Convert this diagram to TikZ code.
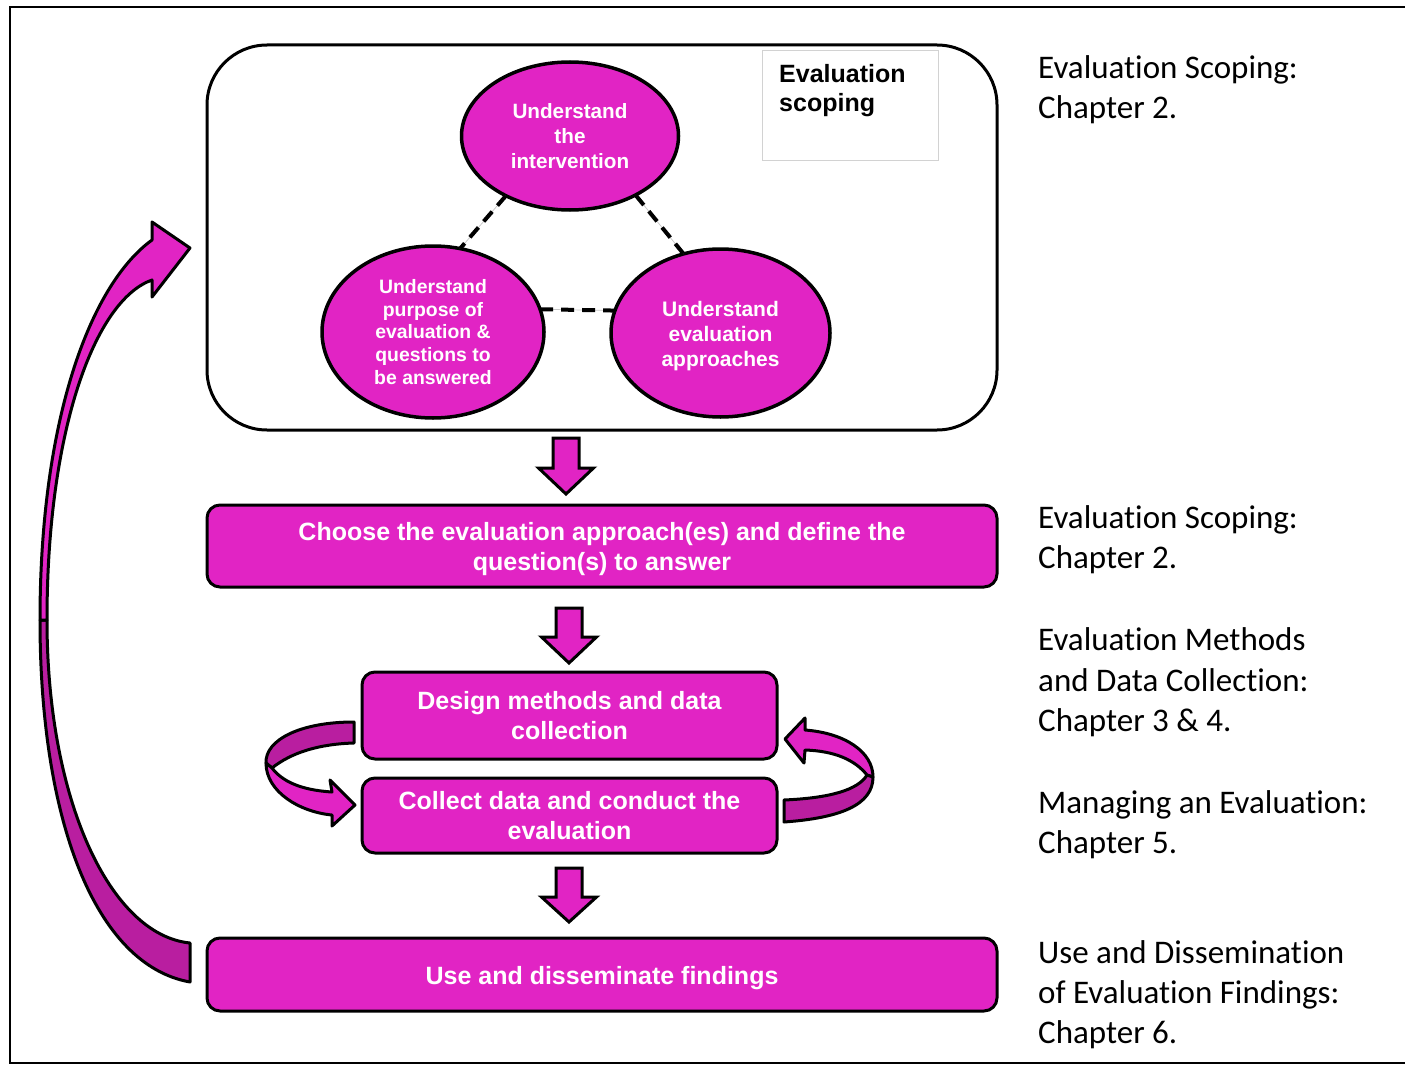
\documentclass[tikz,border=0pt]{standalone}
\usepackage{fontspec}
\usetikzlibrary{shapes.geometric,calc}
\newfontfamily\arialf{Liberation Sans}
\newfontfamily\calf{Carlito}[Ligatures=NoCommon]
\definecolor{mag}{HTML}{E124C4}
\definecolor{magd}{HTML}{B91EA0}
\tikzset{
  pbox/.style={draw=black, line width=3pt, fill=mag, rounded corners=13pt, text=white,
    font=\arialf\bfseries\fontsize{25}{30}\selectfont, align=center, inner sep=0pt, outer sep=0pt},
  boxtext/.style={text=white, font=\arialf\bfseries\fontsize{25}{30}\selectfont, align=center, inner sep=0pt},
  pell/.style={ellipse, draw=black, line width=3.5pt, fill=mag, text=white, align=center,
    inner sep=0pt, outer sep=0pt},
  dashcon/.style={line width=4pt, dash pattern=on 13pt off 8pt},
  faintcon/.style={gray!45, line width=0.7pt},
  blockarr/.style={draw=black, line width=3pt, fill=mag, line join=miter},
  curvearr/.style={draw=black, line width=3pt, line join=round},
  rtext/.style={font=\calf\fontsize{33}{40}\selectfont, anchor=base west, inner sep=0pt, text=black},
  lbltext/.style={font=\arialf\bfseries\fontsize{25}{29}\selectfont, anchor=base west, inner sep=0pt, text=black},
}
\newcommand\dnarrow[4]{%
  \draw[blockarr] (#1-13,#2) -- (#1+13,#2) -- (#1+13,#3) -- (#1+27.5,#3) -- (#1,#4) -- (#1-27.5,#3) -- (#1-13,#3) -- cycle;}
\begin{document}
\begin{tikzpicture}[x=1pt,y=-1pt]
\useasboundingbox (0,0) rectangle (1405,1065);
\fill[white] (0,0) rectangle (1405,1065);
% outer frame (open on the right)
\draw[line width=2pt] (1406,7) -- (10,7) -- (10,1063) -- (1406,1063);

% big scoping box
\node[draw=black, line width=3pt, rounded corners=60pt, minimum width=790pt, minimum height=385pt,
      inner sep=0pt, outer sep=0pt] (scope) at (602,237.5) {};
\node[draw=gray!35, line width=0.8pt, fill=white, minimum width=176pt, minimum height=110pt,
      inner sep=0pt, outer sep=0pt] (scopelbl) at (850,105) {};
\node[lbltext] (scopet1) at (779,82) {Evaluation};
\node[lbltext] (scopet2) at (779,111) {scoping};

% ellipses
\node[pell, minimum width=217pt, minimum height=148pt,
      font=\arialf\bfseries\fontsize{20.7}{25}\selectfont] (etop) at (570,136)
      {Understand\\the\\intervention};
\node[pell, minimum width=222pt, minimum height=172pt,
      font=\arialf\bfseries\fontsize{19.4}{22.8}\selectfont] (eleft) at (433,332)
      {Understand\\purpose of\\evaluation \&\\questions to\\be answered};
\node[pell, minimum width=219pt, minimum height=168pt] (eright) at (720.5,333) {};
\node[text=white, align=center, inner sep=0pt, font=\arialf\bfseries\fontsize{21}{25}\selectfont]
      (erightt) at (720.5,336) {Understand\\evaluation\\approaches};

% dashed links
\draw[faintcon] (etop.223) -- (eleft.72);
\draw[faintcon] (etop.318) -- (eright.115);
\draw[faintcon] (eleft.12) -- (eright.168);
\draw[dashcon] (etop.223) -- (eleft.72);
\draw[dashcon] (etop.318) -- (eright.115);
\draw[dashcon] (eleft.12) -- (eright.168);

% process boxes
\node[pbox, minimum width=790pt, minimum height=82pt] (choose) at (602,546) {};
\node[boxtext] (chooset) at (602,549)
  {Choose the evaluation approach(es) and define the\\question(s) to answer};
\node[pbox, minimum width=415pt, minimum height=87pt] (design) at (569.5,715.5)
  {Design methods and data\\collection};
\node[pbox, minimum width=415pt, minimum height=75pt] (collect) at (569.5,815.5)
  {Collect data and conduct the\\evaluation};
\node[pbox, minimum width=790pt, minimum height=73pt] (use) at (602,974.5) {};
\node[boxtext] (uset) at (602,978.5) {Use and disseminate findings};

% down block arrows
\dnarrow{566}{438}{468}{494}
\dnarrow{569}{608}{637}{663}
\dnarrow{569}{868}{897}{922}

% big curved return arrow
\filldraw[curvearr, fill=magd] (190,982) .. controls (95,965) and (40,820) .. (40,620)
  -- (47,620) .. controls (47,800) and (110,935) .. (190,943) -- cycle;
\filldraw[curvearr, fill=mag] (40,620) .. controls (40,420) and (90,285) .. (152,240)
  -- (152,222) -- (190,248) -- (152,297) -- (152,280)
  .. controls (95,300) and (47,430) .. (47,620) -- cycle;

% left small curved arrow
\filldraw[curvearr, fill=magd] (354,722) .. controls (300,722) and (265,740) .. (266,763)
  -- (272,768) .. controls (292,752) and (320,744) .. (354,743) -- cycle;
\filldraw[curvearr, fill=mag] (266,763) .. controls (266,792) and (300,812) .. (332,815)
  -- (332,826) -- (355,805) -- (330,780) -- (332,792)
  .. controls (300,790) and (282,781) .. (272,768) -- cycle;

% right small curved arrow
\filldraw[curvearr, fill=mag] (805,730) .. controls (845,733) and (873,752) .. (873,777)
  -- (867,775) .. controls (855,760) and (835,751) .. (805,750)
  -- (804,763) -- (785,739) -- (805,718) -- cycle;
\filldraw[curvearr, fill=magd] (873,777) .. controls (873,805) and (840,818) .. (784,822)
  -- (784,800) .. controls (830,798) and (858,790) .. (867,775) -- cycle;

% right-hand chapter notes
\node[rtext] (r1a) at (1038,78) {Evaluation Scoping:};
\node[rtext] (r1b) at (1038,118) {Chapter 2.};
\node[rtext] (r2a) at (1038,528) {Evaluation Scoping:};
\node[rtext] (r2b) at (1038,568) {Chapter 2.};
\node[rtext] (r3a) at (1038,650) {Evaluation Methods};
\node[rtext] (r3b) at (1038,691) {and Data Collection:};
\node[rtext] (r3c) at (1038,731) {Chapter 3 \& 4.};
\node[rtext] (r4a) at (1038,813) {Managing an Evaluation:};
\node[rtext] (r4b) at (1038,853) {Chapter 5.};
\node[rtext] (r5a) at (1038,963) {Use and Dissemination};
\node[rtext] (r5b) at (1038,1003) {of Evaluation Findings:};
\node[rtext] (r5c) at (1038,1043) {Chapter 6.};
\end{tikzpicture}
\end{document}
